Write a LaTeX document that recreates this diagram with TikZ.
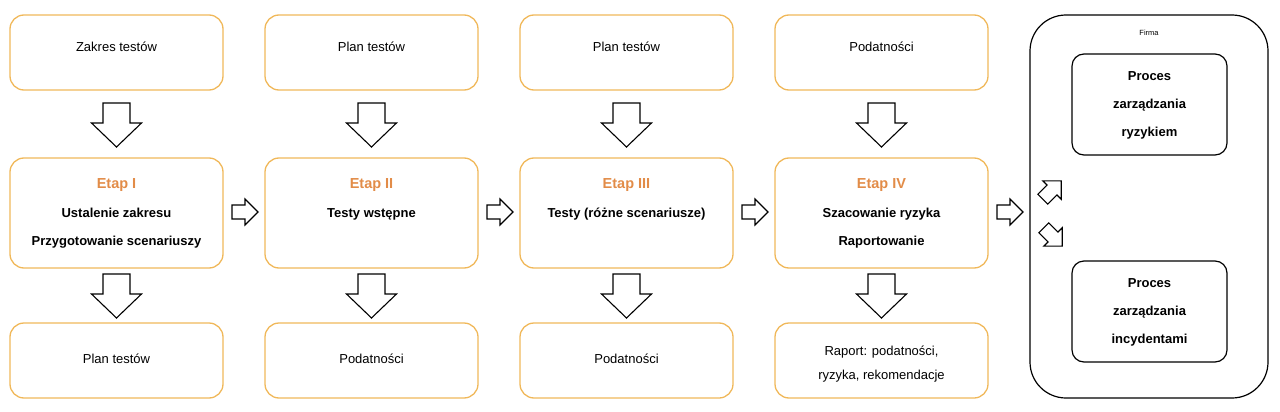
\documentclass[tikz,border=0pt]{standalone}
\usepackage{fontspec}
\setmainfont{Liberation Sans}
\definecolor{obox}{RGB}{240,184,90}
\definecolor{otxt}{RGB}{226,140,72}
\begin{document}
\begin{tikzpicture}[x=1pt,y=-1pt,
  box/.style={draw=obox,line width=1.3pt,rounded corners=14pt,minimum width=213pt,inner sep=0},
  tbox/.style={box,minimum height=75pt},
  mbox/.style={box,minimum height=110pt},
  ibox/.style={draw,line width=1.2pt,rounded corners=12pt,minimum width=155pt,minimum height=101pt},
  txt/.style={font=\fontsize{13}{16}\selectfont,align=center,inner sep=0},
  ttl/.style={font=\bfseries\fontsize{14.5}{16}\selectfont,text=otxt,inner sep=0},
  btxt/.style={font=\bfseries\fontsize{13}{28}\selectfont,align=center,inner sep=0,anchor=north},
  downarr/.pic={\draw[line width=1.1pt,line join=miter] (-22,-13.5)--(-2,-13.5)--(-2,-25)--(22,0)--(-2,25)--(-2,13.5)--(-22,13.5)--cycle;},
  smallarr/.pic={\draw[line width=1.1pt,line join=miter] (-13,-7)--(0,-7)--(0,-13)--(13,0)--(0,13)--(0,7)--(-13,7)--cycle;}]
\useasboundingbox (0,0) rectangle (1280,412);
\foreach \c/\i/\tt/\mt/\bt [count=\n] in {
  116.5/I/Zakres testów/{Ustalenie zakresu\\Przygotowanie scenariuszy}/Plan testów,
  371.5/II/Plan testów/{Testy wstępne}/Podatności,
  626.5/III/Plan testów/{Testy (różne scenariusze)}/Podatności,
  881.5/IV/Podatności/{Szacowanie ryzyka\\Raportowanie}/{}}{
  \node[tbox] (top\n) at (\c,52.5) {};
  \node[txt] (toptxt\n) at (\c,47) {\tt};
  \node[mbox] (mid\n) at (\c,213) {};
  \node[ttl] (etap\n) at (\c,185) {Etap \i};
  \node[btxt] (mtxt\n) at (\c,208) {\mt};
  \node[tbox] (bot\n) at (\c,360.5) {};
  \pic at (\c,125) [rotate=-90] {downarr};
  \pic at (\c,296) [rotate=-90] {downarr};
}
\node[txt] (btxt1) at (116.5,359) {Plan testów};
\node[txt] (btxt2) at (371.5,359) {Podatności};
\node[txt] (btxt3) at (626.5,359) {Podatności};
\node[txt,font=\fontsize{13}{24}\selectfont] (btxt4) at (881.5,364) {Raport: podatności,\\ryzyka, rekomendacje};
\pic at (245,212) {smallarr};
\pic at (500,212) {smallarr};
\pic at (755,212) {smallarr};
\pic at (1010,212) {smallarr};
\pic at (1052,190) [rotate=45] {smallarr};
\pic at (1053,237) [rotate=-45] {smallarr};
\node[draw,line width=1.2pt,rounded corners=36pt,minimum width=238pt,minimum height=383pt] (firm) at (1149,206.5) {};
\node[font=\fontsize{7.5}{9}\selectfont] (firmt) at (1149,33) {Firma};
\node[ibox] (p1) at (1149.5,104.5) {};
\node[btxt] (p1t) at (1149.5,71) {Proces\\zarządzania\\ryzykiem};
\node[ibox] (p2) at (1149.5,311.5) {};
\node[btxt] (p2t) at (1149.5,278) {Proces\\zarządzania\\incydentami};
\end{tikzpicture}
\end{document}
